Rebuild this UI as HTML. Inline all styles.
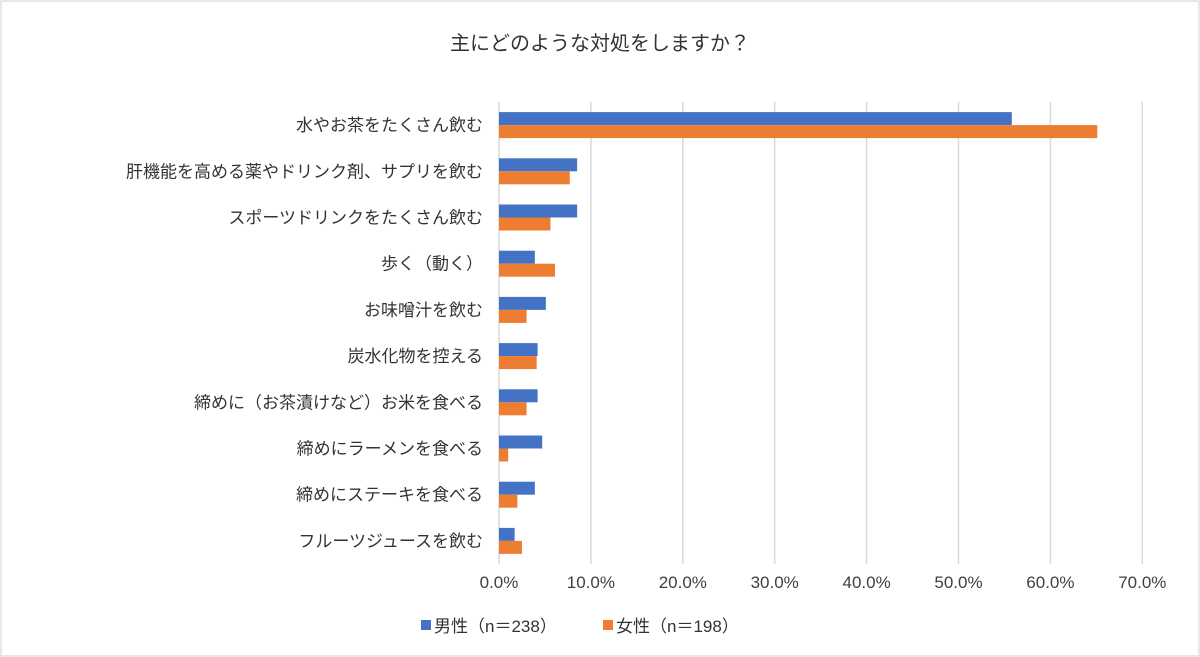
<!DOCTYPE html>
<html><head><meta charset="utf-8"><style>
body{margin:0;background:#fff;}
svg{display:block;font-family:"Liberation Sans","Noto Sans CJK JP",sans-serif;}
</style></head><body>
<svg id="chart" width="1200" height="657" viewBox="0 0 1200 657">
<rect x="1" y="1" width="1198" height="655" fill="#fff" stroke="#d0d0d0"/>
<text x="600" y="50" text-anchor="middle" font-size="20" fill="#333">主にどのような対処をしますか？</text>
<g id="grid"></g><g id="bars"></g><g id="labels"></g><g id="ticks"></g>
<g>
<rect x="421" y="620" width="10" height="10" fill="#4472C4"/>
<text x="434" y="632" font-size="17" fill="#333">男性（n＝238）</text>
<rect x="603" y="620" width="10" height="10" fill="#ED7D31"/>
<text x="616" y="632" font-size="17" fill="#333">女性（n＝198）</text>
</g>
</svg>
<script>
const categories=["水やお茶をたくさん飲む","肝機能を高める薬やドリンク剤、サプリを飲む","スポーツドリンクをたくさん飲む","歩く（動く）","お味噌汁を飲む","炭水化物を控える","締めに（お茶漬けなど）お米を食べる","締めにラーメンを食べる","締めにステーキを食べる","フルーツジュースを飲む"];
const male=[55.8,8.5,8.5,3.9,5.1,4.2,4.2,4.7,3.9,1.7];
const female=[65.1,7.7,5.6,6.1,3.0,4.1,3.0,1.0,2.0,2.5];
const ticks=[0,10,20,30,40,50,60,70];
const tickLabels=["0.0%","10.0%","20.0%","30.0%","40.0%","50.0%","60.0%","70.0%"];
const NS="http://www.w3.org/2000/svg";
const x0=499,pxPer=9.19,yTop=102,yBottom=564;
const band=(yBottom-yTop)/categories.length;
const xs=v=>x0+v*pxPer;
const yc=i=>yTop+band*(i+0.5);
function mk(t,a,p){const e=document.createElementNS(NS,t);for(const k in a)e.setAttribute(k,a[k]);p.appendChild(e);return e;}
const grid=document.getElementById('grid'),bars=document.getElementById('bars'),labels=document.getElementById('labels'),tk=document.getElementById('ticks');
ticks.forEach((t,i)=>{
 const l=mk('line',{x1:xs(t),x2:xs(t),y1:yTop,y2:yBottom,stroke:'#d9d9d9','stroke-width':1.5},grid);
 
 
 const tx=mk('text',{x:xs(t),y:588,'text-anchor':'middle','font-size':17,fill:'#404040'},tk);
 tx.textContent=tickLabels[i];
 
 
});
categories.forEach((c,i)=>{
 const y=yc(i);
 const b=mk('rect',{x:x0,y:y-13,width:xs(male[i])-x0,height:13,fill:'#4472C4'},bars);
 
 
 const o=mk('rect',{x:x0,y:y,width:xs(female[i])-x0,height:13,fill:'#ED7D31'},bars);
 
 
 const t=mk('text',{x:483,y:y+6,'text-anchor':'end','font-size':17,fill:'#333'},labels);
 t.textContent=c;
 
 
});
</script>
</body></html>
